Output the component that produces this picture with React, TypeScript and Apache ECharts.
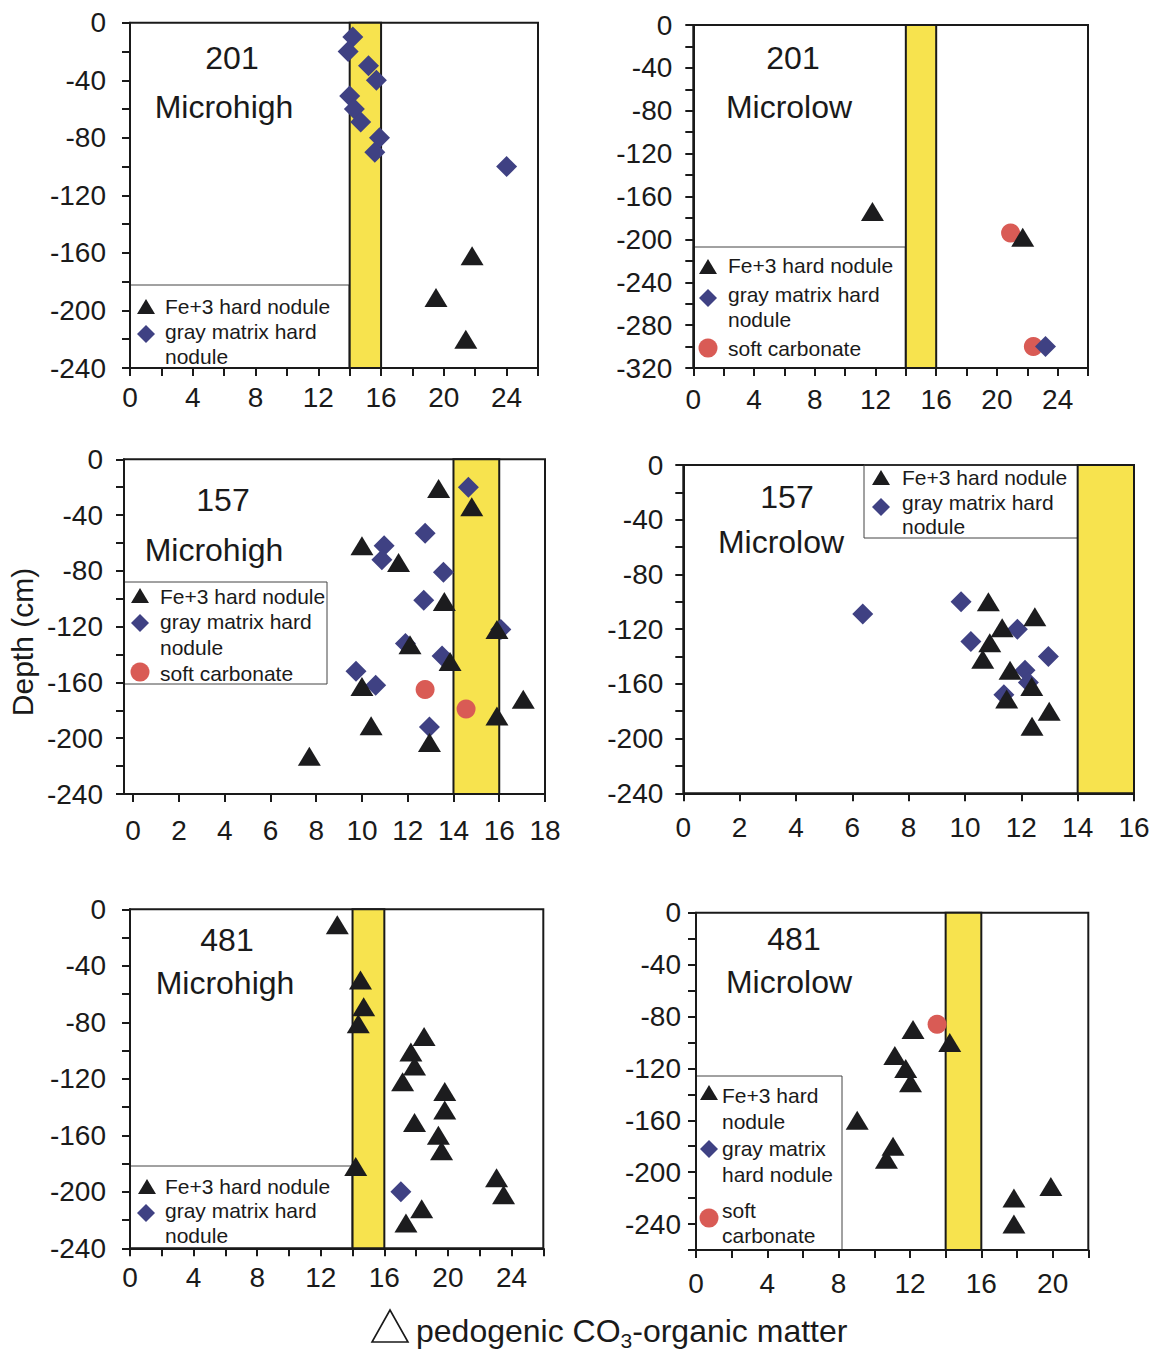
import React, { useEffect, useRef } from "react";
import * as echarts from "echarts";

const FONT = '"Liberation Sans", Arial, Helvetica, sans-serif';
const INK = "#1a1a1a";
const YELLOW = "#F7E34E";
const BLUE = "#3F4183";
const RED = "#D95B55";
const TRI = "#1c1c1e";

// ---- data: [delta, depth] ----
// 201 Microhigh
const p1Fe = [[21.8, -162], [19.5, -191], [21.4, -220]];
const p1Gray = [[14.2, -10], [13.9, -20], [15.2, -30], [15.7, -40], [14.0, -51], [14.3, -60], [14.7, -69], [15.9, -80], [15.6, -90], [24.0, -100]];
const p1Soft: number[][] = [];
// 201 Microlow
const p2Fe = [[11.8, -174], [21.7, -198]];
const p2Gray = [[23.2, -300]];
const p2Soft = [[20.9, -194], [22.4, -300]];
// 157 Microhigh
const p3Fe = [[13.35, -21], [14.8, -34], [10.0, -62], [11.6, -74], [13.6, -102], [15.9, -122], [12.1, -133], [13.85, -145], [10.0, -163], [17.05, -172], [15.9, -184], [10.4, -191], [12.95, -203], [7.7, -213]];
const p3Gray = [[14.65, -20], [12.76, -53], [10.97, -62], [10.87, -72], [13.56, -81], [12.7, -101], [16.07, -122], [11.9, -132], [13.5, -141], [9.74, -152], [10.6, -162], [12.95, -192]];
const p3Soft = [[12.76, -165], [14.55, -179]];
// 157 Microlow
const p4Fe = [[10.83, -100], [12.48, -111], [11.32, -119], [10.88, -130], [10.63, -142], [11.6, -150], [12.37, -162], [11.48, -171], [12.99, -180], [12.38, -191]];
const p4Gray = [[6.37, -109], [9.86, -100], [11.86, -120], [10.21, -129], [12.96, -140], [12.13, -150], [12.25, -159], [11.38, -168]];
const p4Soft: number[][] = [];
// 481 Microhigh
const p5Fe = [[13.04, -11], [14.5, -50], [14.7, -69], [14.36, -81], [18.5, -90], [17.67, -101], [17.9, -111], [17.15, -122], [19.8, -129], [19.8, -142], [17.9, -151], [19.4, -160], [19.6, -171], [14.2, -182], [23.06, -190], [23.5, -202], [18.35, -212], [17.36, -222]];
const p5Gray = [[17.04, -200]];
const p5Soft: number[][] = [];
// 481 Microlow
const p6Fe = [[12.17, -90], [14.23, -100], [11.15, -110], [11.76, -120], [12.03, -131], [9.04, -160], [11.05, -180], [10.68, -190], [19.9, -211], [17.83, -220], [17.83, -240]];
const p6Gray: number[][] = [];
const p6Soft = [[13.52, -86]];

// band of reference values
const BAND = [14, 16];

// ---- ticks / labels ----
const X_TICKS_26 = [0, 2, 4, 6, 8, 10, 12, 14, 16, 18, 20, 22, 24, 26];
const X_LABELS_24 = [0, 4, 8, 12, 16, 20, 24];
const X_TICKS_18 = [0, 2, 4, 6, 8, 10, 12, 14, 16, 18];
const X_TICKS_16 = [0, 2, 4, 6, 8, 10, 12, 14, 16];
const X_TICKS_22 = [0, 2, 4, 6, 8, 10, 12, 14, 16, 18, 20, 22];
const X_LABELS_20 = [0, 4, 8, 12, 16, 20];
const Y_TICKS_240 = [0, -20, -40, -60, -80, -100, -120, -140, -160, -180, -200, -220, -240];
const Y_LABELS_240 = [0, -40, -80, -120, -160, -200, -240];
const Y_TICKS_320 = [0, -20, -40, -60, -80, -100, -120, -140, -160, -180, -200, -220, -240, -260, -280, -300, -320];
const Y_LABELS_320 = [0, -40, -80, -120, -160, -200, -240, -280, -320];
const Y_TICKS_260 = [0, -20, -40, -60, -80, -100, -120, -140, -160, -180, -200, -220, -240, -260];

const SITES = ["201", "201", "157", "157", "481", "481"];
const POSITIONS = ["Microhigh", "Microlow", "Microhigh", "Microlow", "Microhigh", "Microlow"];

const PANELS = [
  { box: [130, 22.7, 408, 345.3], xr: [0, 26], xt: X_TICKS_26, xl: X_LABELS_24, xm: 15, yr: [-240, 0], yt: Y_TICKS_240, yl: Y_LABELS_240, ym: 24, fe: p1Fe, gray: p1Gray, soft: p1Soft, t1: [232, 58], t2: [224, 107] },
  { box: [693.3, 25, 394.7, 343], xr: [0, 26], xt: X_TICKS_26, xl: X_LABELS_24, xm: 17, yr: [-320, 0], yt: Y_TICKS_320, yl: Y_LABELS_320, ym: 21, fe: p2Fe, gray: p2Gray, soft: p2Soft, t1: [793, 58], t2: [789, 107] },
  { box: [124, 459.3, 421, 334.7], xr: [-0.4, 18], xt: X_TICKS_18, xl: X_TICKS_18, xm: 22, yr: [-240, 0], yt: Y_TICKS_240, yl: Y_LABELS_240, ym: 21, fe: p3Fe, gray: p3Gray, soft: p3Soft, t1: [223, 500], t2: [214, 550] },
  { box: [683.3, 465, 450.7, 328.3], xr: [0, 16], xt: X_TICKS_16, xl: X_TICKS_16, xm: 20, yr: [-240, 0], yt: Y_TICKS_240, yl: Y_LABELS_240, ym: 20, fe: p4Fe, gray: p4Gray, soft: p4Soft, t1: [787, 497], t2: [781, 542] },
  { box: [130, 909.3, 413.3, 339], xr: [0, 26], xt: X_TICKS_26, xl: X_LABELS_24, xm: 15, yr: [-240, 0], yt: Y_TICKS_240, yl: Y_LABELS_240, ym: 24, fe: p5Fe, gray: p5Gray, soft: p5Soft, t1: [227, 940], t2: [225, 983] },
  { box: [696, 912.7, 392.3, 337.3], xr: [0, 22], xt: X_TICKS_22, xl: X_LABELS_20, xm: 19, yr: [-260, 0], yt: Y_TICKS_260, yl: Y_LABELS_240, ym: 15, fe: p6Fe, gray: p6Gray, soft: p6Soft, t1: [794, 939], t2: [789, 982] },
];

const LEGENDS = [
  { box: [130, 285, 219, 83], items: [
    { k: "fe", sx: 146, sy: 307, tx: 165, lines: [["Fe+3 hard nodule", 306]] },
    { k: "gray", sx: 146, sy: 334, tx: 165, lines: [["gray matrix hard", 331], ["nodule", 356]] },
  ] },
  { box: [693.3, 247, 212, 121], items: [
    { k: "fe", sx: 708, sy: 267, tx: 728, lines: [["Fe+3 hard nodule", 265]] },
    { k: "gray", sx: 708, sy: 298, tx: 728, lines: [["gray matrix hard", 294], ["nodule", 319]] },
    { k: "soft", sx: 708, sy: 348, tx: 728, lines: [["soft carbonate", 348]] },
  ] },
  { box: [124, 582, 203, 102], items: [
    { k: "fe", sx: 140, sy: 596, tx: 160, lines: [["Fe+3 hard nodule", 596]] },
    { k: "gray", sx: 140, sy: 623, tx: 160, lines: [["gray matrix hard", 621], ["nodule", 647]] },
    { k: "soft", sx: 140, sy: 672, tx: 160, lines: [["soft carbonate", 673]] },
  ] },
  { box: [864, 465, 215, 73], items: [
    { k: "fe", sx: 881, sy: 478, tx: 902, lines: [["Fe+3 hard nodule", 477]] },
    { k: "gray", sx: 881, sy: 507, tx: 902, lines: [["gray matrix hard", 502], ["nodule", 526]] },
  ] },
  { box: [130, 1166, 222, 82.3], items: [
    { k: "fe", sx: 147, sy: 1187, tx: 165, lines: [["Fe+3 hard nodule", 1186]] },
    { k: "gray", sx: 146, sy: 1213, tx: 165, lines: [["gray matrix hard", 1210], ["nodule", 1235]] },
  ] },
  { box: [696, 1076, 146, 174], items: [
    { k: "fe", sx: 709, sy: 1093, tx: 722, lines: [["Fe+3 hard", 1095], ["nodule", 1121]] },
    { k: "gray", sx: 709, sy: 1149, tx: 722, lines: [["gray matrix", 1148], ["hard nodule", 1174]] },
    { k: "soft", sx: 709, sy: 1218, tx: 722, lines: [["soft", 1210], ["carbonate", 1235]] },
  ] },
];

function legendSymbol(k: string, x: number, y: number): any {
  if (k === "fe") return { type: "polygon", silent: true, shape: { points: [[x, y - 8], [x + 9, y + 7], [x - 9, y + 7]] }, style: { fill: TRI } };
  if (k === "gray") return { type: "polygon", silent: true, shape: { points: [[x, y - 9], [x + 9, y], [x, y + 9], [x - 9, y]] }, style: { fill: BLUE } };
  return { type: "circle", silent: true, shape: { cx: x, cy: y, r: 9.5 }, style: { fill: RED } };
}

function buildOption(): any {
  const grid: any[] = [];
  const xAxis: any[] = [];
  const yAxis: any[] = [];
  const series: any[] = [];
  const graphic: any[] = [];

  PANELS.forEach((p, i) => {
    grid.push({ left: p.box[0], top: p.box[1], width: p.box[2], height: p.box[3], show: true, borderColor: INK, borderWidth: 2, backgroundColor: "transparent" });
    const labelStyle = { fontSize: 28, fontFamily: FONT, color: INK };
    xAxis.push({
      type: "value", gridIndex: i, min: p.xr[0], max: p.xr[1], position: "bottom",
      axisLine: { show: true, onZero: false, lineStyle: { color: INK, width: 2 } },
      axisTick: { show: true, length: 8, lineStyle: { color: INK, width: 2 }, customValues: p.xt },
      axisLabel: { show: true, customValues: p.xl, margin: p.xm, ...labelStyle },
      splitLine: { show: false },
    });
    yAxis.push({
      type: "value", gridIndex: i, min: p.yr[0], max: p.yr[1], position: "left",
      axisLine: { show: true, onZero: false, lineStyle: { color: INK, width: 2 } },
      axisTick: { show: true, length: 8, lineStyle: { color: INK, width: 2 }, customValues: p.yt },
      axisLabel: { show: true, customValues: p.yl, margin: p.ym, ...labelStyle },
      splitLine: { show: false },
    });
    series.push({
      type: "scatter", name: "soft carbonate", xAxisIndex: i, yAxisIndex: i, data: p.soft,
      symbol: "circle", symbolSize: 19, itemStyle: { color: RED, opacity: 1 }, emphasis: { disabled: true }, z: 3,
    });
    series.push({
      type: "scatter", name: "gray matrix hard nodule", xAxisIndex: i, yAxisIndex: i, data: p.gray,
      symbol: "diamond", symbolSize: [21, 21], itemStyle: { color: BLUE, opacity: 1 }, emphasis: { disabled: true }, z: 4,
    });
    series.push({
      type: "scatter", name: "Fe+3 hard nodule", xAxisIndex: i, yAxisIndex: i, data: p.fe,
      symbol: "triangle", symbolSize: [23, 19], itemStyle: { color: TRI, opacity: 1 }, emphasis: { disabled: true }, z: 5,
      markArea: {
        silent: true,
        itemStyle: { color: YELLOW, borderColor: INK, borderWidth: 2, opacity: 1 },
        label: { show: false },
        data: [[{ xAxis: BAND[0] }, { xAxis: BAND[1] }]],
      },
    });
    graphic.push({ type: "text", silent: true, x: p.t1[0], y: p.t1[1], style: { text: SITES[i], font: `32px ${FONT}`, fill: INK, align: "center", verticalAlign: "middle" } });
    graphic.push({ type: "text", silent: true, x: p.t2[0], y: p.t2[1], style: { text: POSITIONS[i], font: `32px ${FONT}`, fill: INK, align: "center", verticalAlign: "middle" } });
  });

  LEGENDS.forEach((lg) => {
    graphic.push({ type: "rect", silent: true, shape: { x: lg.box[0], y: lg.box[1], width: lg.box[2], height: lg.box[3] }, style: { fill: "rgba(0,0,0,0)", stroke: "#444", lineWidth: 1 } });
    lg.items.forEach((it: any) => {
      graphic.push(legendSymbol(it.k, it.sx, it.sy));
      it.lines.forEach((ln: any) => {
        graphic.push({ type: "text", silent: true, x: it.tx, y: ln[1], style: { text: ln[0], font: `21px ${FONT}`, fill: INK, align: "left", verticalAlign: "middle" } });
      });
    });
  });

  // y axis title
  graphic.push({ type: "text", silent: true, x: 22, y: 642, rotation: Math.PI / 2, style: { text: "Depth (cm)", font: `30px ${FONT}`, fill: INK, align: "center", verticalAlign: "middle" } });
  // x axis title
  graphic.push({ type: "polygon", silent: true, shape: { points: [[390, 1310], [408, 1342], [372, 1342]] }, style: { fill: "none", stroke: INK, lineWidth: 1.6 } });
  graphic.push({
    type: "text", silent: true, x: 416, y: 1315,
    style: {
      text: "{a|pedogenic CO}{s|3}{a|-organic matter}",
      fill: INK, align: "left", verticalAlign: "top",
      rich: {
        a: { fontSize: 32, fontFamily: FONT, color: INK, lineHeight: 33, verticalAlign: "top" },
        s: { fontSize: 21, fontFamily: FONT, color: INK, lineHeight: 18, padding: [15, 0, 0, 0], verticalAlign: "top" },
      },
    },
  });

  return { animation: false, backgroundColor: "#fff", grid, xAxis, yAxis, series, graphic };
}

export default function App() {
  const ref = useRef<HTMLDivElement>(null);
  useEffect(() => {
    if (!ref.current) return;
    const chart = echarts.init(ref.current, null, { renderer: "svg", width: 1156, height: 1352 });
    chart.setOption(buildOption());
    return () => chart.dispose();
  }, []);
  return <div ref={ref} style={{ position: "fixed", left: 0, top: 0, width: 1156, height: 1352, background: "#fff" }} />;
}
